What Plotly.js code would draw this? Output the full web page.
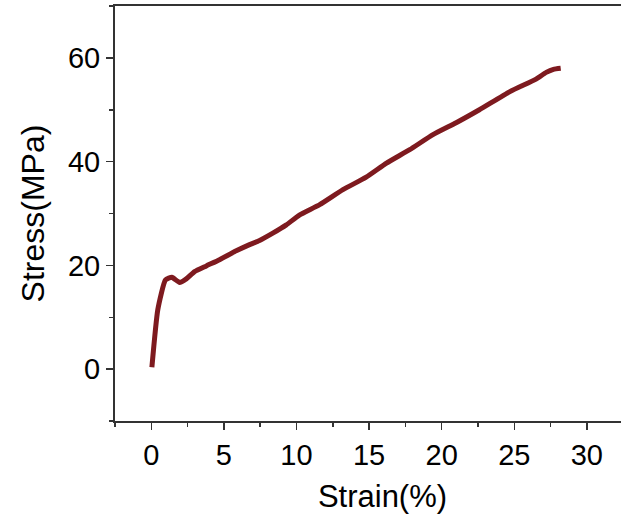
<!DOCTYPE html>
<html>
<head>
<meta charset="utf-8">
<script src="https://cdn.plot.ly/plotly-3.0.1.min.js"></script>
<style>
html,body{margin:0;padding:0;overflow:hidden;background:#fff;}
#chart{width:650px;height:518px;}
</style>
</head>
<body>
<div id="chart"></div>
<script>
var strain = [0.04, 0.45, 0.98, 1.42, 1.95, 2.41, 2.98, 3.79, 4.70, 5.85, 6.77, 7.46, 8.37, 9.3, 10.2, 11.6, 13.2, 14.8, 16.2, 17.8, 19.4, 21.0, 22.6, 24.7, 26.5, 27.2, 27.7, 28.2];
var stress = [0.35, 11.5, 17.2, 17.7, 16.7, 17.4, 18.8, 19.9, 21.1, 22.8, 24.0, 24.8, 26.2, 27.8, 29.7, 31.7, 34.6, 37.0, 39.7, 42.3, 45.2, 47.5, 50.0, 53.5, 55.9, 57.2, 57.8, 58.0];
var xTitle = "Strain(%)";
var yTitle = "Stress(MPa)";

var font = {family: "Liberation Sans, Arial, sans-serif", color: "#000"};
Plotly.newPlot("chart", [{
  x: strain, y: stress, type: "scatter", mode: "lines",
  line: {color: "#7e1a1f", width: 5, shape: "spline", smoothing: 0.5},
  hoverinfo: "skip"
}], {
  width: 650, height: 518,
  margin: {l: 115, r: 0, t: 6, b: 97},
  paper_bgcolor: "#fff", plot_bgcolor: "#fff",
  showlegend: false,
  font: font,
  xaxis: {
    range: [-2.5, 34.35], tickvals: [0, 5, 10, 15, 20, 25, 30],
    showgrid: false, zeroline: false,
    showline: true, linecolor: "#333", linewidth: 2, mirror: true,
    ticks: "outside", ticklen: 7, tickwidth: 1.5, tickcolor: "#333",
    minor: {dtick: 2.5, tick0: 0, ticks: "outside", ticklen: 4, tickwidth: 1.5, tickcolor: "#333", showgrid: false},
    tickfont: {size: 29, family: font.family, color: "#000"},
    title: {text: xTitle, font: {size: 31, family: font.family, color: "#000"}, standoff: 16}
  },
  yaxis: {
    range: [-10, 70], tickvals: [0, 20, 40, 60],
    showgrid: false, zeroline: false,
    showline: true, linecolor: "#333", linewidth: 2, mirror: false,
    ticks: "outside", ticklen: 7, tickwidth: 1.5, tickcolor: "#333",
    minor: {dtick: 10, tick0: 0, ticks: "outside", ticklen: 4, tickwidth: 1.5, tickcolor: "#333", showgrid: false},
    tickfont: {size: 29, family: font.family, color: "#000"},
    title: {text: yTitle, font: {size: 32, family: font.family, color: "#000"}, standoff: 14}
  }
}, {staticPlot: true, displayModeBar: false});
</script>
</body>
</html>
